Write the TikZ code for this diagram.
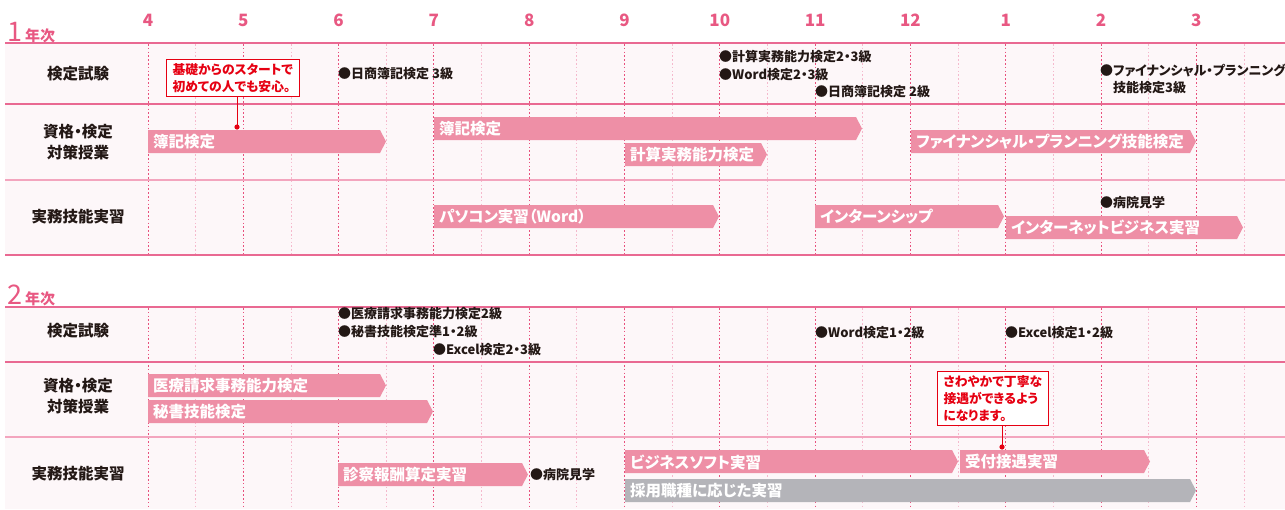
\documentclass[tikz,border=0pt]{standalone}
\usepackage{fontspec}
\setmainfont{Noto Sans CJK JP}[RawFeature=+palt]
\definecolor{pk}{RGB}{232,88,130}
\definecolor{pkline}{RGB}{233,105,146}
\definecolor{pklight}{RGB}{243,165,190}
\definecolor{pkdot}{RGB}{232,80,125}
\definecolor{pkdot2}{RGB}{245,185,205}
\definecolor{bg}{RGB}{253,247,249}
\definecolor{barpk}{RGB}{238,143,166}
\definecolor{bargray}{RGB}{180,180,185}
\definecolor{callred}{RGB}{230,0,18}
\definecolor{txt}{RGB}{35,24,21}
\tikzset{
  rowline/.style={draw=pkline,line width=1.2pt},
  rowlinelt/.style={draw=pklight,line width=2pt},
  mdot/.style={draw=pkdot,line width=0.9pt,dash pattern=on 1.6pt off 2.2pt},
  hdot/.style={draw=pkdot2,line width=0.9pt,dash pattern=on 1.6pt off 2.2pt},
  month/.style={text=pk,font=\fontsize{17}{17}\selectfont\bfseries,inner sep=0pt},
  rowlabel/.style={text=txt,font=\fontsize{15.5}{21}\selectfont\bfseries,align=center,inner sep=0pt},
  exam/.style={text=txt,font=\fontsize{13}{17}\selectfont\bfseries,anchor=west,inner sep=0pt,align=left},
  bartext/.style={text=white,font=\fontsize{15.5}{16}\selectfont\bfseries,anchor=west,inner sep=0pt},
  callout/.style={draw=callred,line width=1pt,fill=white,text=callred,font=\fontsize{12.8}{17}\selectfont\bfseries,align=left,inner xsep=6pt,inner ysep=4pt},
  callline/.style={draw=callred,line width=1pt},
}
% bar: name, x1, x2, ytop, colour, text
\newcommand\gbar[6]{%
  \fill[#5] (#2,#4) -- ({#3-6},#4) -- (#3,{#4+11.5}) -- ({#3-6},{#4+23}) -- (#2,{#4+23}) -- cycle;
  \node[bartext] (#1) at ({#2+5},{#4+12}) {#6};
}
\begin{document}
\begin{tikzpicture}[x=1pt,y=-1pt]
\useasboundingbox (0,0) rectangle (1285,509);
% backgrounds
\fill[bg] (5,43) rectangle (1285,255);
\fill[bg] (5,307) rectangle (1285,509);
% vertical dotted lines
\foreach \i in {0,...,11}{
  \pgfmathsetmacro\xx{148+95.3*\i}
  \pgfmathsetmacro\xh{148+95.3*\i+47.65}
  \draw[hdot] (\xh,44) -- (\xh,255);
  \draw[hdot] (\xh,308) -- (\xh,509);
  \draw[mdot] (\xx,44) -- (\xx,255);
  \draw[mdot] (\xx,308) -- (\xx,509);
}
% month labels
\foreach \m [count=\i from 0] in {4,5,6,7,8,9,10,11,12,1,2,3}{
  \node[month] (m\i) at ({148+95.3*\i},20) {\m};
}
% year titles
\node[text=pk,inner sep=0pt,anchor=base west] (y1n) at (7,41) {\fontsize{27}{27}\selectfont 1};
\node[text=pk,inner sep=0pt,anchor=base west,font=\fontsize{15}{15}\selectfont\bfseries] (y1t) at (y1n.base east) {\,年次};
\node[text=pk,inner sep=0pt,anchor=base west] (y2n) at (7,304) {\fontsize{27}{27}\selectfont 2};
\node[text=pk,inner sep=0pt,anchor=base west,font=\fontsize{15}{15}\selectfont\bfseries] (y2t) at (y2n.base east) {\,年次};
% horizontal row lines
\draw[draw=pkline,line width=2pt] (5,43) -- (1285,43);
\draw[rowline] (5,104) -- (1285,104);
\draw[rowlinelt] (5,180) -- (1285,180);
\draw[rowline] (5,255) -- (1285,255);
\draw[draw=pkline,line width=2pt] (5,307) -- (1285,307);
\draw[rowline] (5,362) -- (1285,362);
\draw[rowlinelt] (5,437) -- (1285,437);
% row labels
\node[rowlabel] (l11) at (78,74) {検定試験};
\node[rowlabel] (l12) at (78,142) {資格・検定\\対策授業};
\node[rowlabel] (l13) at (78,217) {実務技能実習};
\node[rowlabel] (l21) at (78,331) {検定試験};
\node[rowlabel] (l22) at (78,396) {資格・検定\\対策授業};
\node[rowlabel] (l23) at (78,474) {実務技能実習};
% exams year 1
\node[exam] (e1) at (338,74) {●日商簿記検定 3級};
\node[exam] (e2) at (719,57) {●計算実務能力検定2・3級};
\node[exam] (e3) at (719,75) {●Word検定2・3級};
\node[exam] (e4) at (815,92) {●日商簿記検定 2級};
\node[exam,anchor=north west] (e5) at (1100,64) {●ファイナンシャル・プランニング\\\hspace*{13pt}技能検定3級};
% bars year 1
\gbar{b1}{148}{386}{130}{barpk}{簿記検定}
\gbar{b2}{434}{862}{117}{barpk}{簿記検定}
\gbar{b3}{625}{767}{143}{barpk}{計算実務能力検定}
\gbar{b4}{911}{1196}{130}{barpk}{ファイナンシャル・プランニング技能検定}
\gbar{b5}{434}{719}{205}{barpk}{パソコン実習（Word）}
\gbar{b6}{815}{1004}{205}{barpk}{インターンシップ}
\gbar{b7}{1006}{1243}{216}{barpk}{インターネットビジネス実習}
\node[exam] (e6) at (1100,203) {●病院見学};
% exams year 2
\node[exam] (f1) at (338,314) {●医療請求事務能力検定2級};
\node[exam] (f2) at (338,332) {●秘書技能検定準1・2級};
\node[exam] (f3) at (433,350) {●Excel検定2・3級};
\node[exam] (f4) at (815,333) {●Word検定1・2級};
\node[exam] (f5) at (1005,333) {●Excel検定1・2級};
% bars year 2
\gbar{c1}{148}{386}{374}{barpk}{医療請求事務能力検定}
\gbar{c2}{148}{433}{400}{barpk}{秘書技能検定}
\gbar{c3}{338}{528}{463}{barpk}{診察報酬算定実習}
\node[exam] (f6) at (530,475) {●病院見学};
\gbar{c4}{625}{958}{450}{barpk}{ビジネスソフト実習}
\gbar{c5}{960}{1150}{450}{barpk}{受付接遇実習}
\gbar{c6}{625}{1196}{479}{bargray}{採用職種に応じた実習}
% callouts
\node[callout,anchor=north west] (k1) at (166,59) {基礎からのスタートで\\初めての人でも安心。};
\coordinate (k1d) at (237,127);
\draw[callline] (k1.south -| k1d) -- (k1d);
\fill[callred] (k1d) circle (2.6);
\node[callout,anchor=north west] (k2) at (937,371) {さわやかで丁寧な\\接遇ができるよう\\になります。};
\coordinate (k2d) at (1002,447);
\draw[callline] (k2.south -| k2d) -- (k2d);
\fill[callred] (k2d) circle (2.6);
\end{tikzpicture}
\end{document}
